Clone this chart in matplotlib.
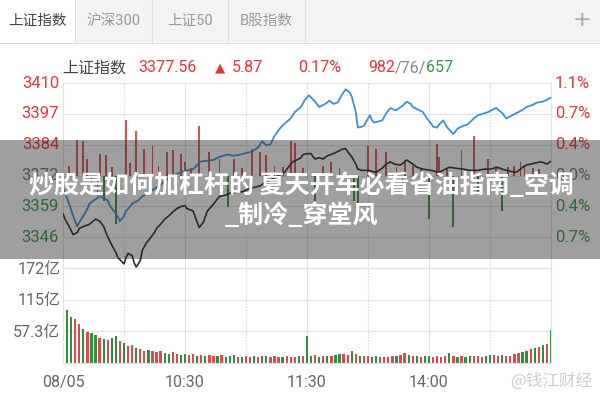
import matplotlib
matplotlib.use("Agg")
import matplotlib.pyplot as plt
from matplotlib import font_manager
from matplotlib.patches import Rectangle

# ---------------- data ----------------
prev_close = 3371.69
last_price = 3377.56
change = 5.87
change_pct = "0.17%"
breadth = ("982", "76", "657")

tabs = ["上证指数", "沪深300", "上证50", "B股指数"]
left_labels = ["3410", "3397", "3384", "3372", "3359", "3346"]
right_labels = ["1.1%", "0.7%", "0.4%", "0.0%", "0.4%", "0.7%"]
vol_labels = ["172亿", "115亿", "57.3亿"]
vol_ticks = [172, 114.7, 57.3]
time_labels = ["08/05", "10:30", "11:30", "14:00"]
time_pos = [0, 60, 120, 180]

# index line (minute, value)
black_min = [0, 1, 3, 5, 7, 8, 10, 13, 16, 18, 20, 22, 24, 26, 27, 29, 30, 31, 32, 34,
             35, 36, 38, 39, 41, 43, 45, 46, 48, 50, 52, 54, 56, 58, 60, 61, 64, 65, 67, 69,
             71, 73, 75, 77, 80, 82, 84, 86, 88, 90, 93, 95, 97, 99, 102, 104, 107, 109, 112, 113,
             115, 117, 118, 120, 122, 123, 124, 126, 128, 130, 133, 135, 137, 139, 140, 142, 144, 145, 147, 150,
             152, 154, 157, 159, 161, 163, 166, 168, 169, 172, 174, 177, 181, 183, 185, 188, 190, 193, 197, 200,
             204, 207, 210, 212, 213, 215, 216, 220, 223, 225, 226, 228, 230, 232, 235, 237, 238, 240]
black_val = [3355.9, 3353.7, 3350.7, 3347.3, 3348.2, 3349.9, 3350.7, 3351.6, 3353.7, 3352.9,
             3350.7, 3346.4, 3343.0, 3340.0, 3337.9, 3336.2, 3335.3, 3337.9, 3339.6, 3338.7,
             3335.7, 3334.0, 3336.6, 3340.9, 3343.9, 3346.0, 3348.2, 3349.9, 3351.6, 3353.7,
             3355.0, 3356.7, 3358.0, 3358.9, 3359.3, 3358.0, 3357.1, 3354.6, 3350.3, 3352.4,
             3357.1, 3358.9, 3361.0, 3363.1, 3363.6, 3364.4, 3364.4, 3365.3, 3364.9, 3365.7,
             3366.6, 3367.0, 3367.4, 3368.7, 3370.0, 3370.8, 3372.1, 3373.0, 3376.4, 3377.3,
             3378.1, 3379.0, 3380.3, 3380.7, 3380.7, 3379.4, 3378.5, 3379.0, 3378.5, 3379.8,
             3380.7, 3381.5, 3382.4, 3382.8, 3381.5, 3379.4, 3376.4, 3374.3, 3373.8, 3373.8,
             3373.4, 3373.0, 3374.7, 3376.4, 3377.3, 3376.4, 3376.0, 3377.3, 3378.1, 3376.4,
             3375.1, 3374.3, 3373.8, 3373.4, 3373.0, 3374.3, 3375.1, 3374.7, 3374.3, 3373.8,
             3373.8, 3374.3, 3374.3, 3374.7, 3375.1, 3374.7, 3374.3, 3373.4, 3373.0, 3374.3,
             3375.1, 3376.0, 3376.4, 3376.8, 3377.3, 3376.8, 3376.4, 3377.6]

# unweighted index line (minute, value)
blue_min = [0, 1, 3, 5, 7, 8, 10, 12, 13, 16, 18, 20, 22, 23, 25, 27, 28, 30, 31, 33,
            34, 37, 39, 42, 44, 48, 51, 54, 58, 61, 64, 66, 67, 70, 74, 77, 81, 84, 87, 91,
            93, 96, 98, 100, 102, 104, 107, 109, 112, 114, 117, 119, 121, 124, 126, 129, 131, 133, 135, 137,
            139, 141, 142, 144, 145, 147, 148, 150, 151, 152, 153, 155, 157, 159, 161, 163, 164, 167, 169, 171,
            172, 175, 177, 179, 181, 182, 184, 185, 187, 189, 192, 194, 197, 199, 200, 202, 204, 206, 209, 211,
            213, 216, 218, 221, 223, 226, 228, 231, 233, 236, 238, 240]
blue_val = [3366.6, 3364.4, 3360.1, 3355.0, 3350.7, 3352.4, 3355.0, 3358.0, 3360.1, 3361.9,
            3363.1, 3362.3, 3361.4, 3359.3, 3357.1, 3354.6, 3352.9, 3355.0, 3357.1, 3358.9,
            3360.1, 3361.4, 3363.1, 3364.4, 3365.7, 3367.8, 3370.0, 3371.7, 3373.0, 3373.8,
            3374.3, 3376.0, 3377.3, 3377.7, 3378.1, 3379.4, 3380.3, 3379.8, 3380.3, 3381.1,
            3381.5, 3383.3, 3385.8, 3384.1, 3384.5, 3388.0, 3391.4, 3393.1, 3395.2, 3397.8,
            3399.9, 3402.9, 3404.7, 3402.1, 3399.9, 3401.2, 3402.5, 3401.2, 3401.7, 3404.7,
            3407.2, 3405.9, 3404.2, 3397.8, 3391.4, 3391.8, 3392.2, 3395.2, 3396.5, 3394.4,
            3393.5, 3393.9, 3394.4, 3397.4, 3399.5, 3398.7, 3398.7, 3400.4, 3402.1, 3401.2,
            3399.9, 3398.7, 3397.8, 3395.2, 3393.1, 3391.8, 3391.4, 3392.7, 3394.4, 3391.4,
            3388.8, 3391.0, 3392.2, 3392.7, 3393.5, 3395.2, 3396.5, 3397.0, 3397.8, 3398.7,
            3399.5, 3397.4, 3395.2, 3396.5, 3397.4, 3398.7, 3399.9, 3400.8, 3401.7, 3402.1,
            3402.9, 3403.8]

# buy/sell strength bars (minute, points vs previous close)
str_min = [3, 7, 10, 12, 14, 17, 18, 20, 21, 24, 26, 31, 33, 36, 40, 44, 47, 51, 54, 58,
           60, 63, 67, 72, 77, 81, 84, 88, 93, 97, 100, 104, 108, 112, 114, 118, 124, 128, 132, 136,
           143, 145, 150, 154, 159, 164, 167, 168, 172, 176, 180, 184, 185, 189, 192, 196, 202, 204, 209, 213,
           216, 219, 222, 225, 227, 231, 234]
str_val = [4.0, 14.6, 14.1, 6.8, -6.0, -8.6, 9.0, -10.3, 8.6, 3.5, -20.0, 22.7, 5.0, 18.4, 11.1, 12.0, 4.0, 9.8, 10.7, 9.0,
           5.6, 3.0, 20.5, 9.8, 6.8, -12.8, 6.8, 3.0, 11.1, 9.8, 8.6, 4.0, 3.5, 14.1, 13.3, 3.0, -10.3, 4.0, 5.5, 3.0,
           -10.3, -13.7, 12.0, 11.1, 9.8, 3.5, -3.0, 6.4, 4.0, 3.0, -18.0, 12.8, 7.7, 3.0, -21.4, 10.7, 16.3, -7.3, 6.8, 3.0,
           -14.6, 3.5, 4.0, 5.6, 4.3, 3.0, 2.5]

# volume (every 2 minutes, 亿) and colour flags (r = up, g = down)
vol_min = list(range(0, 241, 2))
vol_val = [165, 96, 84, 80, 70, 62, 57, 55, 50, 46, 44, 42, 46, 48, 40, 36, 30, 32, 28, 25,
           22, 24, 22, 20, 22, 18, 16, 20, 17, 15, 17, 14, 16, 13, 15, 12, 14, 13, 12, 15,
           11, 12, 14, 11, 10, 12, 11, 12, 10, 13, 12, 11, 12, 10, 11, 12, 10, 11, 12, 13,
           48, 12, 14, 11, 12, 13, 12, 15, 16, 17, 15, 22, 16, 13, 12, 12, 11, 12, 11, 10,
           11, 12, 13, 14, 18, 14, 13, 12, 11, 12, 13, 11, 12, 11, 12, 19, 13, 11, 12, 11,
           12, 13, 12, 11, 13, 14, 15, 13, 14, 12, 13, 16, 18, 20, 22, 25, 27, 29, 32, 35,
           60]
vol_dir = ("gggrrgrggrgrggrgrrgrrgrrrggrrggrrgrgrrgr"
           "gggrgrrgrggrrrgrrrgrggrgrgrggrrgrgrrggrr"
           "rrgrrgrgrggrrrrgrgrggrrrggrrgrrrrggrgrgrg")

# ---------------- fonts ----------------
avail = {f.name for f in font_manager.fontManager.ttflist}
num_font = "Roboto" if "Roboto" in avail else "DejaVu Sans"
cjk = ["Noto Sans CJK SC", "DejaVu Sans"]
num_fam = [num_font, "Noto Sans CJK SC", "DejaVu Sans"]

RED = "#e5343c"
GREEN = "#2f9a46"
GRAY = "#777777"
GRID = "#e3e3e3"
NFS = 11.5

fig = plt.figure(figsize=(6, 4), dpi=100)
fig.patch.set_facecolor("white")

W, H = 600.0, 400.0
def rect(x0, y0, x1, y1):
    return [x0 / W, 1 - y1 / H, (x1 - x0) / W, (y1 - y0) / H]

# background axes in pixel coordinates
bg = fig.add_axes([0, 0, 1, 1], zorder=0)
bg.set_xlim(0, W)
bg.set_ylim(H, 0)
bg.axis("off")

# tab bar
bg.add_patch(Rectangle((0, 0), 600, 42, facecolor="#f3f3f3", edgecolor="none"))
tab_x = [0, 75, 152, 228, 305]
bg.add_patch(Rectangle((0, 0), 75, 42, facecolor="white", edgecolor="none"))
for xx in tab_x[1:]:
    bg.plot([xx, xx], [0, 42], color="#dddddd", lw=0.8)
bg.plot([0, 600], [42.5, 42.5], color="#dddddd", lw=0.8)
for i, t in enumerate(tabs):
    cx = (tab_x[i] + tab_x[i + 1]) / 2
    bg.text(cx, 21, t, ha="center", va="center", fontsize=10.5,
            color="#444444" if i == 0 else "#9a9a9a", family=num_fam)
bg.text(582, 20, "+", ha="center", va="center", fontsize=16, color="#aaaaaa", family="DejaVu Sans")

# header row
hy = 68
bg.text(62, hy, "上证指数", ha="left", va="center", fontsize=11.5, color="#444444", family=cjk)
bg.text(138, hy, f"{last_price:.2f}", ha="left", va="center", fontsize=NFS, color=RED, family=num_fam)
bg.text(215, hy, "▲", ha="left", va="center", fontsize=9.5, color=RED, family="DejaVu Sans")
bg.text(232, hy, f"{change:.2f}", ha="left", va="center", fontsize=NFS, color=RED, family=num_fam)
bg.text(298, hy, change_pct, ha="left", va="center", fontsize=NFS, color=RED, family=num_fam)
t1 = bg.text(368, hy, breadth[0], ha="left", va="center", fontsize=NFS, color=RED, family=num_fam)
t2 = bg.annotate("/" + breadth[1] + "/", xycoords=t1, xy=(1, 0.5), va="center", ha="left",
                 fontsize=NFS, color="#888888", family=num_fam)
bg.annotate(breadth[2], xycoords=t2, xy=(1, 0.5), va="center", ha="left",
            fontsize=NFS, color=GREEN, family=num_fam)

# ---------------- price axes ----------------
PX0, PX1 = 63, 551
ax = fig.add_axes(rect(PX0, 83, PX1, 268), zorder=1)
ax.set_facecolor("none")
half = 38.1
ax.set_xlim(0, 240)
ax.set_ylim(prev_close - half, prev_close + half)
levels = [prev_close + half - i * half / 3 for i in range(7)]
for lv in levels[1:-1]:
    ax.axhline(lv, color=GRID, lw=0.8, zorder=0)
for m in range(30, 240, 30):
    if m % 60 == 0:
        ax.axvline(m, color=GRID, lw=0.8, zorder=0)
    else:
        ax.axvline(m, color="#cfcfcf", lw=0.8, ls=(0, (1, 1.5)), zorder=0)
for s in ax.spines.values():
    s.set_color(GRID)
    s.set_linewidth(0.8)
ax.set_xticks([])
ax.set_yticks([])

bar_cols = ["#d9534f" if v > 0 else "#3e8e41" for v in str_val]
ax.bar(str_min, str_val, bottom=prev_close, width=0.9, color=bar_cols, zorder=2, linewidth=0)
ax.plot(blue_min, blue_val, color="#3d8fd4", lw=1.3, zorder=3)
ax.plot(black_min, black_val, color="#2b2b2b", lw=1.2, zorder=4)

ytr = ax.get_yaxis_transform()
for i, lab in enumerate(left_labels):
    c = RED if i < 3 else (GRAY if i == 3 else GREEN)
    ax.text(-0.008, levels[i], lab, transform=ytr, ha="right", va="center",
            fontsize=12, color=c, family=num_fam, clip_on=False)
for i, lab in enumerate(right_labels):
    c = RED if i < 3 else (GRAY if i == 3 else GREEN)
    ax.text(1.008, levels[i], lab, transform=ytr, ha="left", va="center",
            fontsize=12, color=c, family=num_fam, clip_on=False)

# ---------------- volume axes ----------------
vx = fig.add_axes(rect(PX0, 268, PX1, 363), zorder=1)
vx.set_facecolor("none")
vx.set_xlim(0, 240)
vx.set_ylim(0, 172)
for lv in vol_ticks[1:]:
    vx.axhline(lv, color=GRID, lw=0.8, zorder=0)
for m in range(30, 240, 30):
    if m % 60 == 0:
        vx.axvline(m, color=GRID, lw=0.8, zorder=0)
    else:
        vx.axvline(m, color="#cfcfcf", lw=0.8, ls=(0, (1, 1.5)), zorder=0)
for s in vx.spines.values():
    s.set_color(GRID)
    s.set_linewidth(0.8)
vx.set_xticks([])
vx.set_yticks([])
vcols = ["#e2474b" if d == "r" else "#2f8f3a" for d in vol_dir[:len(vol_val)]]
vx.bar(vol_min, vol_val, width=1.1, color=vcols, linewidth=0, zorder=2)
vtr = vx.get_yaxis_transform()
for lab, lv in zip(vol_labels, vol_ticks):
    vx.text(-0.005, lv - 2, lab, transform=vtr, ha="right", va="center", fontsize=11.5,
            color="#666666", family=num_fam, clip_on=False)
xtr = vx.get_xaxis_transform()
for lab, m in zip(time_labels, time_pos):
    vx.text(m, -0.21, lab, transform=xtr, ha="center", va="center", fontsize=11.5,
            color="#666666", family=num_fam, clip_on=False)

# ---------------- overlay banner ----------------
ov = fig.add_axes([0, 0, 1, 1], zorder=10)
ov.set_xlim(0, W)
ov.set_ylim(H, 0)
ov.axis("off")
ov.patch.set_alpha(0)
ov.add_patch(Rectangle((0, 140), 600, 119, facecolor="#2a2a2a", alpha=0.45, edgecolor="none"))
ov.text(301, 185, "炒股是如何加杠杆的 夏天开车必看省油指南_空调", ha="center", va="center",
        fontsize=18, color="white", weight="bold", family=cjk)
ov.text(301, 215, "_制冷_穿堂风", ha="center", va="center",
        fontsize=18, color="white", weight="bold", family=cjk)
ov.text(592, 381, "@钱江财经", ha="right", va="center", fontsize=12, color="#c8c8c8",
        family=cjk, alpha=0.9)

fig.savefig("out.png", dpi=100)
